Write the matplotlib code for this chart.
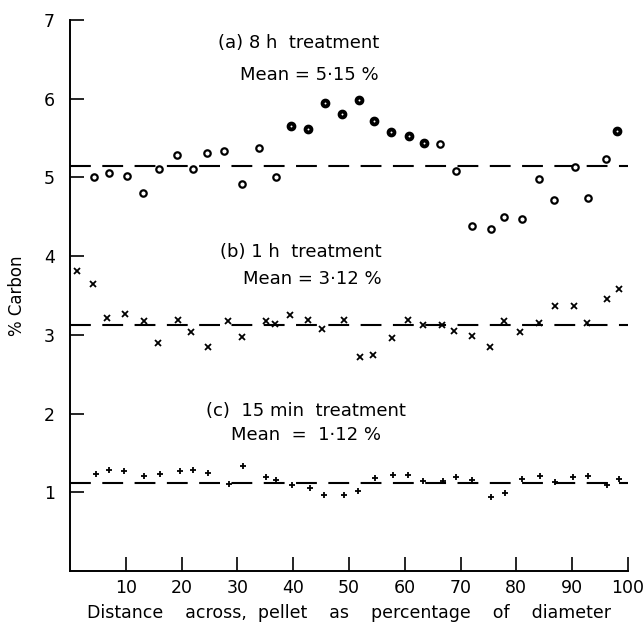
import matplotlib
matplotlib.use("Agg")
import matplotlib.pyplot as plt
import numpy as np

# (a) 8 h treatment
x_a = [4.3, 7.0, 10.3, 13.0, 16.0, 19.2, 22.0, 24.6, 27.6, 30.8, 33.8, 37.0,
       39.6, 42.7, 45.7, 48.7, 51.8, 54.5, 57.6, 60.7, 63.5, 66.4, 69.1,
       72.0, 75.4, 77.8, 81.1, 84.0, 86.8, 90.5, 92.9, 96.1, 98.0]
y_a = [5.00, 5.06, 5.02, 4.80, 5.11, 5.28, 5.11, 5.31, 5.34, 4.92, 5.37, 5.00,
       5.65, 5.61, 5.94, 5.81, 5.98, 5.72, 5.58, 5.53, 5.44, 5.42, 5.08,
       4.38, 4.34, 4.49, 4.47, 4.98, 4.71, 5.13, 4.74, 5.23, 5.59]
bold_a = [39.6, 42.7, 45.7, 48.7, 51.8, 54.5, 57.6, 60.7, 63.5, 98.0]
mean_a = 5.15

# (b) 1 h treatment
x_b = [1.3, 4.2, 6.6, 9.9, 13.2, 15.8, 19.3, 21.7, 24.8, 28.4, 30.9, 35.1,
       36.7, 39.5, 42.7, 45.1, 49.1, 51.9, 54.3, 57.7, 60.5, 63.2, 66.6,
       68.9, 72.0, 75.3, 77.8, 80.7, 84.1, 87.0, 90.4, 92.7, 96.3, 98.4]
y_b = [3.81, 3.65, 3.21, 3.26, 3.17, 2.90, 3.19, 3.04, 2.85, 3.17, 2.97, 3.18,
       3.14, 3.25, 3.19, 3.08, 3.19, 2.72, 2.74, 2.96, 3.19, 3.12, 3.12,
       3.05, 2.98, 2.84, 3.17, 3.03, 3.15, 3.37, 3.37, 3.15, 3.45, 3.58]
mean_b = 3.12

# (c) 15 min treatment
x_c = [4.6, 7.0, 9.7, 13.2, 16.1, 19.7, 22.1, 24.8, 28.5, 31.0, 35.2, 37.0,
       39.8, 43.0, 45.5, 49.2, 51.7, 54.6, 57.9, 60.5, 63.2, 66.9, 69.2,
       72.1, 75.5, 78.0, 81.0, 84.3, 87.0, 90.1, 92.8, 96.3, 98.4]
y_c = [1.23, 1.285, 1.27, 1.21, 1.23, 1.27, 1.285, 1.24, 1.10, 1.33, 1.20, 1.15,
       1.09, 1.05, 0.96, 0.96, 1.02, 1.18, 1.22, 1.215, 1.14, 1.14, 1.19,
       1.16, 0.94, 0.99, 1.17, 1.21, 1.13, 1.20, 1.21, 1.09, 1.17]
mean_c = 1.12

x_ticks = [10, 20, 30, 40, 50, 60, 70, 80, 90, 100]
y_ticks = [1, 2, 3, 4, 5, 6, 7]

plt.rcParams['font.family'] = ['DejaVu Sans']

fig = plt.figure(figsize=(6.44, 6.27), dpi=100)
ax = fig.add_axes([0.1087, 0.0893, 0.8663, 0.879])

dash = dict(color='black', lw=1.5, dashes=(10, 5.5))
for m in (mean_a, mean_b, mean_c):
    ax.plot([0, 100], [m, m], **dash)

# series a
xa = np.array(x_a); ya = np.array(y_a)
isbold = np.isin(xa, bold_a)
ax.plot(xa[~isbold], ya[~isbold], 'o', ms=4.6, mfc='white', mec='black', mew=1.6, ls='none')
ax.plot(xa[isbold], ya[isbold], 'o', ms=6.0, mfc='black', mec='black', mew=1.0, ls='none')
ax.plot(xa[isbold], ya[isbold], 'o', ms=1.4, mfc='white', mec='none', ls='none')

# series b
ax.plot(x_b, y_b, 'x', ms=4.5, mec='black', mew=1.3, ls='none')
# series c
ax.plot(x_c, y_c, '+', ms=5, mec='black', mew=1.3, ls='none')

fs = 13
ax.text(55.4, 6.71, "(a) 8 h  treatment", ha='right', va='center', fontsize=fs)
ax.text(55.4, 6.30, "Mean = 5·15 %", ha='right', va='center', fontsize=fs)
ax.text(55.8, 4.05, "(b) 1 h  treatment", ha='right', va='center', fontsize=fs)
ax.text(55.8, 3.71, "Mean = 3·12 %", ha='right', va='center', fontsize=fs)
ax.text(60.2, 2.03, "(c)  15 min  treatment", ha='right', va='center', fontsize=fs)
ax.text(55.8, 1.73, "Mean  =  1·12 %", ha='right', va='center', fontsize=fs)

ax.set_xlim(0, 100)
ax.set_ylim(0, 7)
ax.set_xticks(x_ticks)
ax.set_yticks(y_ticks)
ax.tick_params(axis='both', direction='in', length=10, width=1.2, labelsize=12.5)
ax.tick_params(axis='y', pad=11)
ax.tick_params(axis='x', pad=6)
for s in ('top', 'right'):
    ax.spines[s].set_visible(False)
for s in ('left', 'bottom'):
    ax.spines[s].set_linewidth(1.4)

ax.set_xlabel("Distance    across,  pellet    as    percentage    of    diameter",
              fontsize=12.5, labelpad=5)
ax.set_ylabel("% Carbon", fontsize=12, labelpad=13)

fig.savefig("out.png", dpi=100)
